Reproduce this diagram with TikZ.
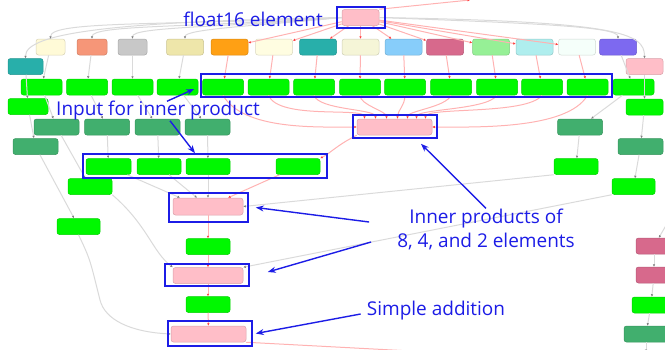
\documentclass[tikz,border=0pt]{standalone}
\usepackage{fontspec}
\setmainfont{Open Sans}
\usetikzlibrary{arrows.meta}

\definecolor{anno}{RGB}{28,28,230}
\definecolor{cPink}{RGB}{255,190,200}
\definecolor{cLemon}{RGB}{255,250,215}
\definecolor{cSalmon}{RGB}{246,150,120}
\definecolor{cSilver}{RGB}{200,200,200}
\definecolor{cKhaki}{RGB}{238,230,170}
\definecolor{cOrange}{RGB}{255,160,20}
\definecolor{cIvory}{RGB}{255,253,225}
\definecolor{cTeal}{RGB}{40,175,170}
\definecolor{cBeige}{RGB}{245,245,215}
\definecolor{cSky}{RGB}{135,205,250}
\definecolor{cRose}{RGB}{215,105,140}
\definecolor{cMint}{RGB}{150,240,150}
\definecolor{cAqua}{RGB}{175,238,238}
\definecolor{cCream}{RGB}{245,255,250}
\definecolor{cSlate}{RGB}{125,105,240}
\definecolor{cLime}{RGB}{0,248,0}
\definecolor{cSea}{RGB}{65,175,110}
\definecolor{eGray}{RGB}{218,218,218}
\definecolor{ePink}{RGB}{255,178,178}

\tikzset{
  op/.style={rounded corners=2.5pt, inner sep=0pt, minimum height=16pt,
    minimum width=37pt, line width=0.5pt, fill=#1, draw=#1!85!black},
  gn/.style={op=cLime, minimum width=41pt},
  dg/.style={op=cSea, minimum width=45pt},
  gl/.style={draw=eGray, line width=1pt, -{Latex[length=2.5pt,width=2.5pt,color=black!50]}},
  pl/.style={draw=ePink, line width=1pt, -{Latex[length=2.5pt,width=2.5pt,color=red!75]}},
  frame/.style={draw=anno, line width=1.6pt, inner sep=0pt},
  note/.style={text=anno, inner sep=0pt, font=\fontsize{19}{24}\selectfont},
  callout/.style={draw=anno, line width=1.4pt, -{Stealth[length=8pt,width=6pt]}}
}

\begin{document}
\begin{tikzpicture}[x=1pt,y=-1pt]
  \useasboundingbox (0,0) rectangle (665,349);

  % constants
  \node[op=cPink] (f16) at (360.5,17.5) {};
  \node[op=cLemon, minimum width=29pt] (c1) at (50.5,47) {};
  \node[op=cSalmon, minimum width=30pt] (c2) at (92,47) {};
  \node[op=cSilver, minimum width=29pt] (c3) at (132.5,47) {};
  \node[op=cKhaki] (c4) at (185,47) {};
  \node[op=cOrange] (c5) at (229.5,47) {};
  \node[op=cIvory] (c6) at (274,47) {};
  \node[op=cTeal] (c7) at (318,47) {};
  \node[op=cBeige] (c8) at (360.5,47) {};
  \node[op=cSky] (c9) at (403.5,47) {};
  \node[op=cRose] (c10) at (445,47) {};
  \node[op=cMint] (c11) at (491,47) {};
  \node[op=cAqua] (c12) at (534.5,47) {};
  \node[op=cCream] (c13) at (577,47) {};
  \node[op=cSlate] (c14) at (618,47) {};
  \node[op=cTeal, minimum width=35pt] (tl) at (25.5,66.5) {};
  \node[op=cPink] (pr) at (644.5,66.5) {};

  % registers
  \node[gn] (g1) at (41.5,87) {};
  \node[gn] (g2) at (87,87) {};
  \node[gn] (g3) at (132.5,87) {};
  \node[gn] (g4) at (177.5,87) {};
  \node[gn] (g5) at (223,87) {};
  \node[gn] (g6) at (268.5,87) {};
  \node[gn] (g7) at (314,87) {};
  \node[gn] (g8) at (360,87) {};
  \node[gn] (g9) at (405,87) {};
  \node[gn] (g10) at (451,87) {};
  \node[gn] (g11) at (497,87) {};
  \node[gn] (g12) at (542,87) {};
  \node[gn] (g13) at (587.5,87) {};
  \node[gn] (g14) at (633.5,87) {};
  \node[gn, minimum width=40pt] (gl1) at (28,106.5) {};
  \node[gn, minimum width=37pt] (gr1) at (644.5,107) {};

  \node[dg] (d1) at (56.5,127) {};
  \node[dg] (d2) at (107,127) {};
  \node[dg] (d3) at (157.5,127) {};
  \node[dg] (d4) at (207.5,127) {};
  \node[dg] (d5) at (580,127) {};
  \node[dg] (dl) at (35.5,146.5) {};
  \node[dg] (dr) at (640.5,146.5) {};

  \node[gn, minimum width=45pt] (b1) at (108.5,166.5) {};
  \node[gn, minimum width=44pt] (b2) at (159,166.5) {};
  \node[gn, minimum width=44pt] (b3) at (208,166.5) {};
  \node[gn, minimum width=44pt] (b4) at (298,166.5) {};
  \node[gn, minimum width=44pt] (b5) at (576,166.5) {};
  \node[gn, minimum width=44pt] (ga) at (90,186.5) {};
  \node[gn, minimum width=43pt] (gb) at (633.5,186.5) {};
  \node[gn, minimum width=43pt] (gc) at (78.5,226.5) {};

  % dot products
  \node[op=cPink, minimum width=75pt] (ip8) at (394.5,127) {};
  \node[op=cPink, minimum width=70pt, minimum height=17pt] (ip4) at (208,206.5) {};
  \node[gn, minimum width=44pt] (m1) at (208,246.5) {};
  \node[op=cPink, minimum width=70pt] (ip2) at (208,275.5) {};
  \node[gn, minimum width=44pt] (m2) at (208,304.5) {};
  \node[op=cPink, minimum width=75pt] (add) at (208.5,334) {};

  % right column
  \node[op=cRose, minimum width=36pt] (r1) at (654,246) {};
  \node[op=cRose, minimum width=36pt] (r2) at (654,275) {};
  \node[gn, minimum width=38pt] (r3) at (651,305) {};
  \node[dg, minimum width=44pt] (r4) at (646,334) {};
  \coordinate (rin) at (668,222);
  \coordinate (rout) at (646,352);
  \coordinate (pout) at (430,352);
  \coordinate (tout) at (470,0);

  % edges from f16
  \draw[gl] (f16.west) .. controls +(-230,4) and +(0,-25) .. (tl.north);
  \draw[gl] (f16.west) .. controls +(-180,8) and +(0,-18) .. (c1.north);
  \draw[gl] (f16.west) .. controls +(-150,10) and +(0,-14) .. (c2.north);
  \draw[gl] (f16.west) .. controls +(-120,10) and +(0,-12) .. (c3.north);
  \draw[gl] (f16.west) .. controls +(-80,8) and +(0,-10) .. (c4.north);
  \draw[gl] (f16.east) .. controls +(160,6) and +(0,-12) .. (c14.north);
  \draw[gl] (f16.east) .. controls +(240,4) and +(0,-25) .. (pr.north);
  \draw[pl] (f16) -- (c5);
  \draw[pl] (f16) -- (c6);
  \draw[pl] (f16) -- (c7);
  \draw[pl] (f16) -- (c8);
  \draw[pl] (f16) -- (c9);
  \draw[pl] (f16) -- (c10);
  \draw[pl] (f16) -- (c11);
  \draw[pl] (f16) -- (c12);
  \draw[pl] (f16) -- (c13);
  \draw[pl] (f16.north east) -- (tout);

  % constants to registers
  \draw[gl] (tl) -- (gl1);
  \draw[gl] (c1) -- (g1);
  \draw[gl] (c2) -- (g2);
  \draw[gl] (c3) -- (g3);
  \draw[gl] (c4) -- (g4);
  \draw[pl] (c5) -- (g5);
  \draw[pl] (c6) -- (g6);
  \draw[pl] (c7) -- (g7);
  \draw[pl] (c8) -- (g8);
  \draw[pl] (c9) -- (g9);
  \draw[pl] (c10) -- (g10);
  \draw[pl] (c11) -- (g11);
  \draw[pl] (c12) -- (g12);
  \draw[pl] (c13) -- (g13);
  \draw[gl] (c14) -- (g14);
  \draw[gl] (pr) -- (gr1);

  % into the 8 element product
  \draw[pl] (g5.south) .. controls +(20,35) and +(-40,0) .. (ip8.west);
  \draw[pl] (g6.south) .. controls +(10,25) and +(0,-12) .. ([xshift=-30pt]ip8.north);
  \draw[pl] (g7.south) .. controls +(5,15) and +(0,-10) .. ([xshift=-19pt]ip8.north);
  \draw[pl] (g8.south) .. controls +(0,10) and +(0,-8) .. ([xshift=-8pt]ip8.north);
  \draw[pl] (g9.south) .. controls +(0,10) and +(0,-8) .. ([xshift=3pt]ip8.north);
  \draw[pl] (g10.south) .. controls +(-5,12) and +(0,-8) .. ([xshift=13pt]ip8.north);
  \draw[pl] (g11.south) .. controls +(-10,15) and +(0,-10) .. ([xshift=22pt]ip8.north);
  \draw[pl] (g12.south) .. controls +(-15,20) and +(0,-12) .. ([xshift=31pt]ip8.north);
  \draw[pl] (g13.south) .. controls +(-20,35) and +(40,0) .. (ip8.east);

  % left chain
  \draw[gl] (g1) -- (d1);
  \draw[gl] (g2) -- (d2);
  \draw[gl] (g3) -- (d3);
  \draw[gl] (g4) -- (d4);
  \draw[gl] (gl1) -- (dl);
  \draw[gl] (d2) -- (b1);
  \draw[gl] (d3) -- (b2);
  \draw[gl] (d4) -- (b3);
  \draw[gl] (d1) -- (ga);
  \draw[gl] (dl) -- (gc);
  \draw[pl] (ip8.south west) .. controls +(-20,10) and +(10,-5) .. (b4.north east);

  % into the 4 element product
  \draw[gl] (b1) -- ([xshift=-28pt]ip4.north);
  \draw[gl] (b2) -- ([xshift=-11pt]ip4.north);
  \draw[gl] (b3) -- (ip4.north);
  \draw[pl] (b4) -- ([xshift=20pt]ip4.north);
  \draw[gl] (b5.south west) -- (ip4.east);

  % right chain
  \draw[gl] (g14) -- (d5);
  \draw[gl] (d5) -- (b5);
  \draw[gl] (gr1) -- (dr);
  \draw[gl] (dr) -- (gb);

  % down to the sum
  \draw[pl] (ip4) -- (m1);
  \draw[pl] (m1) -- (ip2);
  \draw[pl] (ip2) -- (m2);
  \draw[pl] (m2) -- (add);
  \draw[gl] (ga.south east) .. controls +(35,30) and +(-20,-15) .. (ip2.north west);
  \draw[gl] (gb.south west) -- (ip2.north east);
  \draw[gl] (gc.south) .. controls +(12,25) and +(-10,-40) .. (100,300) .. controls +(5,20) and +(-40,-2) .. (add.west);
  \draw[pl] (add.south east) -- (pout);

  \draw[gl] (rin) -- (r1);
  \draw[gl] (r1) -- (r2);
  \draw[gl] (r2) -- (r3);
  \draw[gl] (r3) -- (r4);
  \draw[gl] (r4) -- (rout);

  % call-outs
  \node[frame, minimum width=48pt, minimum height=21pt] (bf16) at (361,17.5) {};
  \node[frame, minimum width=411pt, minimum height=23pt] (brow) at (406.5,85.5) {};
  \node[frame, minimum width=84pt, minimum height=23pt] (bip8) at (395,126.5) {};
  \node[frame, minimum width=244pt, minimum height=24pt] (bin) at (205,166) {};
  \node[frame, minimum width=79pt, minimum height=29pt] (bip4) at (208.5,207.5) {};
  \node[frame, minimum width=84pt, minimum height=22pt] (bip2) at (207,275) {};
  \node[frame, minimum width=84pt, minimum height=25pt] (badd) at (210,333.5) {};

  \node[note] (lf16) at (253,19) {float16 element};
  \node[note] (lin) at (158,111) {Input for inner product};
  \node[note, align=center] (lip) at (486,229) {Inner products of\\8, 4, and 2 elements};
  \node[note] (lsum) at (436,311) {Simple addition};

  \draw[callout] ([xshift=9pt]lin.north) -- ([xshift=-6pt,yshift=-3.5pt]brow.west);
  \draw[callout] ([xshift=12pt]lin.south) -- ([xshift=-10pt]bin.north);
  \draw[callout] (lip.north) -- ([xshift=26pt,yshift=-5pt]bip8.south);
  \draw[callout] ([xshift=-28pt,yshift=7pt]lip.west) -- ([xshift=7pt]bip4.east);
  \draw[callout] ([xshift=-26pt,yshift=-13pt]lip.west) -- ([xshift=18pt,yshift=3pt]bip2.east);
  \draw[callout] ([xshift=-6pt,yshift=-3pt]lsum.west) -- ([xshift=3pt]badd.east);
\end{tikzpicture}
\end{document}
